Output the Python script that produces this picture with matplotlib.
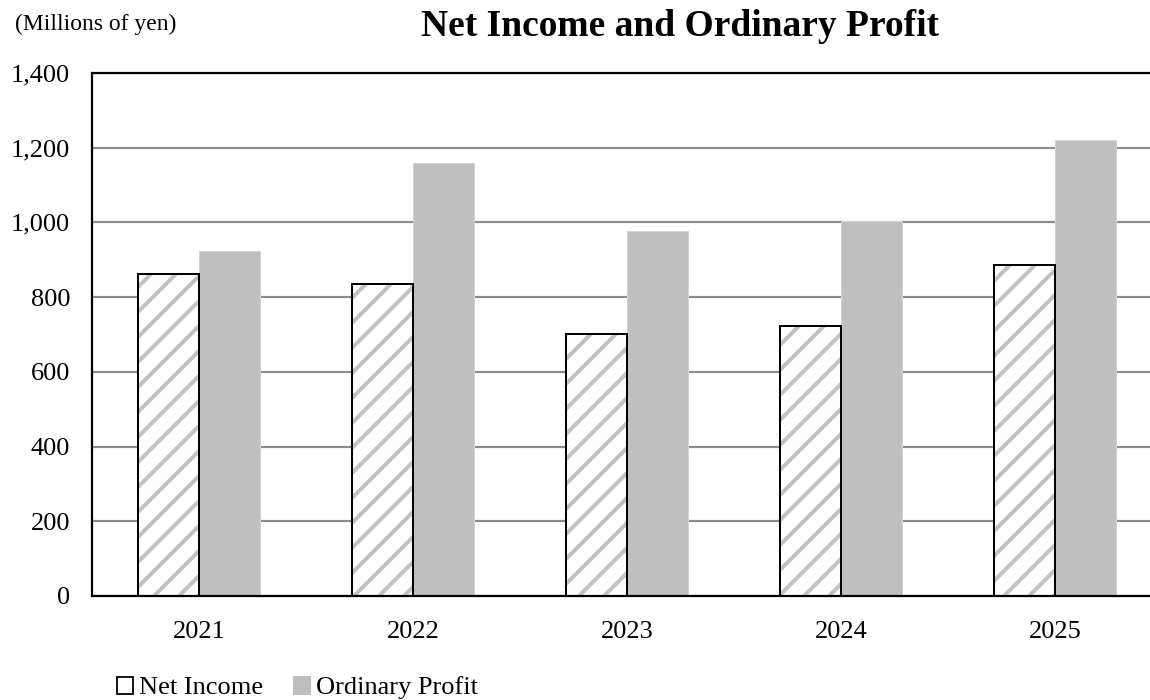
import matplotlib
matplotlib.use("Agg")
import matplotlib.pyplot as plt
from matplotlib.patches import Patch
import numpy as np

years = ["2021", "2022", "2023", "2024", "2025"]
net_income = [862, 835, 701, 723, 886]
ordinary_profit = [923, 1160, 978, 1003, 1220]
y_ticks = [0, 200, 400, 600, 800, 1000, 1200, 1400]
title = "Net Income and Ordinary Profit"
unit_label = "(Millions of yen)"
series_names = ["Net Income", "Ordinary Profit"]

DPI = 150
def px(v):
    """convert pixels to points at DPI"""
    return v * 72.0 / DPI

plt.rcParams['font.family'] = ['Liberation Serif', 'DejaVu Serif']
plt.rcParams['hatch.linewidth'] = px(4.0)

W, H = 1150, 700
fig = plt.figure(figsize=(W / DPI, H / DPI), dpi=DPI)
ax = fig.add_axes([92 / W, (H - 596) / H, 1070 / W, 523 / H])

x = np.arange(len(years))
bw = 0.285
ax.bar(x - bw / 2, net_income, bw, facecolor='white', edgecolor='#c2c2c2',
       hatch='//', linewidth=0, zorder=2)
ax.bar(x - bw / 2, net_income, bw, fill=False, edgecolor='black',
       linewidth=px(2.0), zorder=3)
ax.bar(x + bw / 2, ordinary_profit, bw, color='#bfbfbf', edgecolor='#d4d4d4',
       linewidth=px(1.0), zorder=2)

ax.set_xlim(-0.5, len(years) - 0.5)
ax.set_ylim(0, 1400)
ax.set_yticks(y_ticks)
ax.set_yticklabels([f"{v:,}" for v in y_ticks])
ax.set_xticks(x)
ax.set_xticklabels(years)
ax.tick_params(axis='both', length=0, labelsize=px(26.4))
ax.tick_params(axis='y', pad=px(22))
ax.tick_params(axis='x', pad=px(25))

ax.yaxis.grid(True, color='#8c8c8c', linewidth=px(2.2), zorder=0)
ax.set_axisbelow(True)
for s in ax.spines.values():
    s.set_color('black')
    s.set_linewidth(px(2.2))

fig.text(15 / W, 1 - 24 / H, unit_label, fontsize=px(23.6), ha='left', va='center')
fig.text(680 / W, 1 - 27 / H, title, fontsize=px(37.5), fontweight='bold',
         ha='center', va='center')

handles = [Patch(facecolor='white', edgecolor='black', linewidth=px(1.8)),
           Patch(facecolor='#bfbfbf', edgecolor='#bfbfbf')]
fig.legend(handles, series_names, loc='center left',
           bbox_to_anchor=(117 / W, 1 - 688 / H), ncol=2, frameon=False,
           fontsize=px(26.4), handlelength=0.6, handleheight=0.6,
           handletextpad=0.25, columnspacing=1.15, borderpad=0, borderaxespad=0)

fig.savefig("out.png", dpi=DPI)
